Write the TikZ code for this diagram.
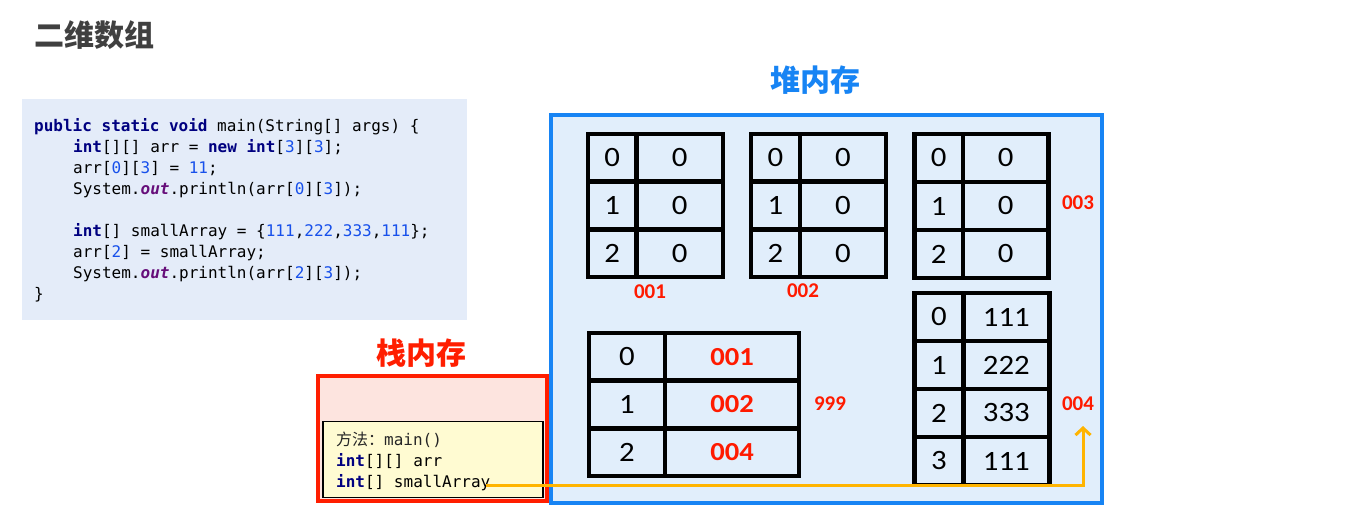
\documentclass[tikz,border=0pt]{standalone}
\usepackage{fontspec}
\setmainfont{Carlito}
\setmonofont{DejaVu Sans Mono}
\newfontfamily\cjk{Noto Sans CJK SC}
\newfontfamily\numfont[FakeStretch=1.1]{Carlito}
\newfontfamily\redfont[FakeStretch=1.1]{Carlito}
\usetikzlibrary{arrows.meta}

\definecolor{heapblue}{HTML}{1784F4}
\definecolor{heapfill}{HTML}{E1EEFB}
\definecolor{codefill}{HTML}{E4ECF9}
\definecolor{stackred}{HTML}{FF1E00}
\definecolor{stackfill}{HTML}{FDE4DF}
\definecolor{yelfill}{HTML}{FFFBD2}
\definecolor{arrowor}{HTML}{FFB400}
\definecolor{kwcol}{HTML}{000080}
\definecolor{numcol}{HTML}{1750EB}
\definecolor{outcol}{HTML}{660E7A}
\definecolor{titlegray}{HTML}{404040}
\definecolor{addrred}{HTML}{FF1A00}

\newcommand\jkw[1]{\textcolor{kwcol}{\bfseries #1}}
\newcommand\jnum[1]{\textcolor{numcol}{#1}}
\newcommand\jout{\textcolor{outcol}{\bfseries\itshape out}}
\newcommand\redval[1]{{\redfont\bfseries\fontsize{26}{26}\selectfont\color{addrred}#1}}

\newcommand\memarr[8]{%
  \node[arrbox, minimum width={#5-#2}, minimum height={#6-#3}] (#1) at ({(#2+#5)/2},{(#3+#6)/2}) {};
  \draw[gridl] (#4,#3) -- (#4,#6);
  \foreach \v [count=\k from 0] in {#8} {
    \node[cellnum] (#1-i\k) at ({(#2+#4)/2},{#3+(\k+0.5)*#7}) {\k};
    \node[cellnum] (#1-v\k) at ({(#4+#5)/2},{#3+(\k+0.5)*#7}) {\v};
    \ifnum\k>0 \draw[gridl] (#2,{#3+\k*#7}) -- (#5,{#3+\k*#7});\fi
  }
}

\tikzset{
  arrbox/.style={draw=black, line width=4.5pt, inner sep=0, rectangle},
  gridl/.style={draw=black, line width=4.5pt},
  cellnum/.style={inner sep=0, text=black, font=\numfont\fontsize{28}{28}\selectfont},
  addr/.style={inner sep=0, text=addrred, font=\bfseries\fontsize{21}{21}\selectfont},
  codeline/.style={anchor=base west, inner sep=0, font=\ttfamily\fontsize{16}{16}\selectfont},
  biglabel/.style={inner sep=0, font=\cjk\bfseries\fontsize{30}{30}\selectfont},
  arrowc/.style={draw=arrowor, line width=3pt, -{Straight Barb[length=7pt,width=15pt]}},
}

\begin{document}
\begin{tikzpicture}[x=1pt,y=-1pt]
\useasboundingbox[fill=white] (0,0) rectangle (1360,512);

% title
\node[anchor=west, inner sep=0, font=\cjk\bfseries\fontsize{30}{30}\selectfont, text=titlegray] (title) at (34,35) {二维数组};

% code box
\node[fill=codefill, inner sep=0, minimum width=445, minimum height=221] (codebox) at (244.5,209.5) {};
\node[codeline] (c1) at (34,131) {\jkw{public} \jkw{static} \jkw{void} main(String[] args) \{};
\node[codeline] (c2) at (73,152) {\jkw{int}[][] arr = \jkw{new} \jkw{int}[\jnum{3}][\jnum{3}];};
\node[codeline] (c3) at (73,173) {arr[\jnum{0}][\jnum{3}] = \jnum{11};};
\node[codeline] (c4) at (73,194) {System.\jout.println(arr[\jnum{0}][\jnum{3}]);};
\node[codeline] (c6) at (73,236.5) {\jkw{int}[] smallArray = \{\jnum{111},\jnum{222},\jnum{333},\jnum{111}\};};
\node[codeline] (c7) at (73,257.5) {arr[\jnum{2}] = smallArray;};
\node[codeline] (c8) at (73,278.5) {System.\jout.println(arr[\jnum{2}][\jnum{3}]);};
\node[codeline] (c9) at (34,299.5) {\}};

% heap
\node[biglabel, text=heapblue] (heaplabel) at (815,80) {堆内存};
\node[draw=heapblue, fill=heapfill, line width=4pt, inner sep=0, minimum width=551, minimum height=388] (heap) at (826.5,309) {};

\memarr{a001}{588}{134}{636.5}{723}{277}{47.67}{0,0,0}
\memarr{a002}{751}{134}{800}{886}{277}{47.67}{0,0,0}
\memarr{a003}{914.5}{134}{963}{1048.5}{278}{48}{0,0,0}
\memarr{a999}{589}{333}{665}{799}{476}{47.67}{\redval{001},\redval{002},\redval{004}}
\memarr{a004}{914.5}{293}{963.3}{1049.5}{485}{48}{111,222,333,111}

\node[addr] (l001) at (650,292) {001};
\node[addr] (l002) at (803,291) {002};
\node[addr] (l003) at (1078,203) {003};
\node[addr] (l999) at (830,404) {999};
\node[addr] (l004) at (1078,404) {004};

% stack
\node[biglabel, text=stackred] (stacklabel) at (421,353) {栈内存};
\node[draw=stackred, fill=stackfill, line width=4pt, inner sep=0, minimum width=229, minimum height=125.5] (stack) at (432.5,438.25) {};
\node[draw=black, fill=yelfill, line width=1.2pt, inner sep=0, minimum width=220, minimum height=76] (frame) at (433,459.5) {};
\node[codeline, text=black!85] (s1) at (336,445) {{\cjk 方法：}main()};
\node[codeline] (s2) at (336,466) {\jkw{int}[][] arr};
\node[codeline] (s3) at (336,487) {\jkw{int}[] smallArray};

% arrow
\coordinate (tip) at (1083,426);
\draw[arrowc] ([xshift=-5pt,yshift=1.5pt]s3.base east) -| (tip);
\end{tikzpicture}
\end{document}
